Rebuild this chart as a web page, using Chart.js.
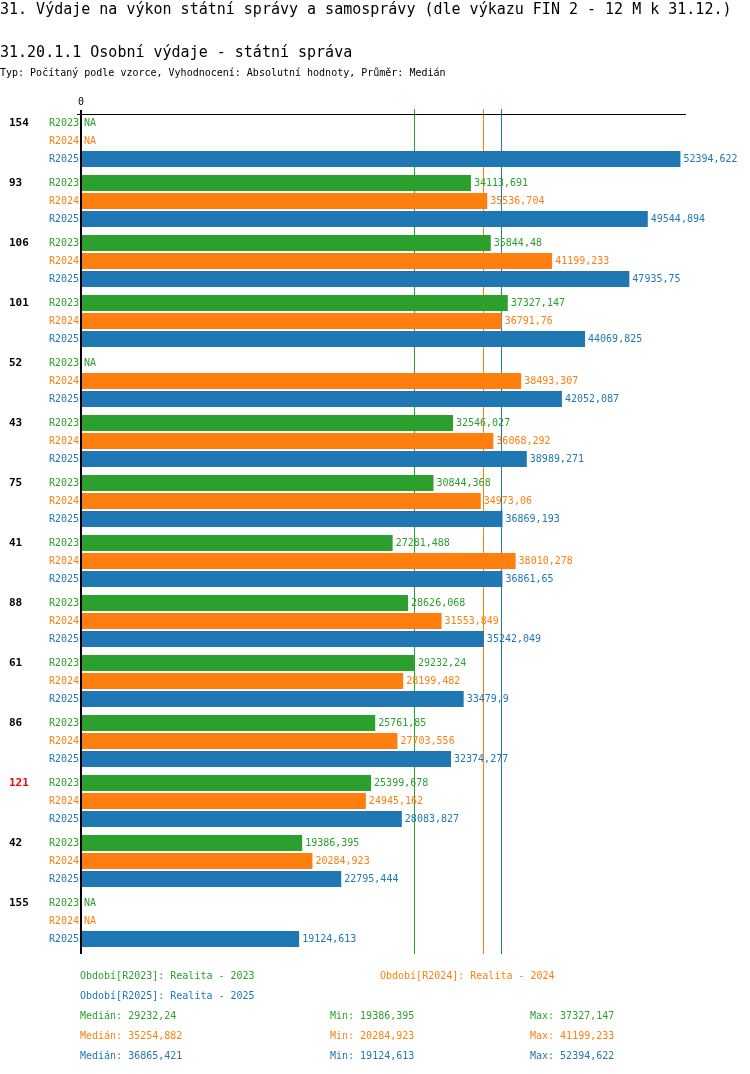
<!DOCTYPE html>
<html>
<head>
<meta charset="utf-8">
<script src="https://cdn.jsdelivr.net/npm/chart.js@4"></script>
<style>
  html, body { margin: 0; padding: 0; background: #fff; overflow: hidden; }
  #wrap { position: relative; width: 750px; height: 1074px; }
  canvas { position: absolute; left: 0; top: 0; }
  .t { position: absolute; font-family: "DejaVu Sans Mono", monospace; white-space: pre; }
</style>
</head>
<body>
<div id="wrap">
  <canvas id="c" width="750" height="1074"></canvas>
  <div class="t" id="title" style="left:0;top:1px;font-size:15px;line-height:16px;color:#000"></div>
  <div class="t" id="subtitle" style="left:0;top:44px;font-size:15px;line-height:16px;color:#000"></div>
  <div class="t" id="typ" style="left:0;top:67px;font-size:10px;line-height:11px;color:#000"></div>
  <div id="legend"></div>
</div>
<script>
const titleText = "31. Výdaje na výkon státní správy a samosprávy (dle výkazu FIN 2 - 12 M k 31.12.)";
const subtitleText = "31.20.1.1 Osobní výdaje - státní správa";
const typText = "Typ: Počítaný podle vzorce, Vyhodnocení: Absolutní hodnoty, Průměr: Medián";

const categories = ["154","93","106","101","52","43","75","41","88","61","86","121","42","155"];
const highlighted = ["121"];
const seriesNames = ["R2023","R2024","R2025"];
const seriesColors = ["#2ca02c","#ff7f0e","#1f77b4"];
const seriesLegend = ["Období[R2023]: Realita - 2023","Období[R2024]: Realita - 2024","Období[R2025]: Realita - 2025"];

const r2023 = [null, 34113.691, 35844.48, 37327.147, null, 32546.027, 30844.368, 27281.488, 28626.068, 29232.24, 25761.85, 25399.678, 19386.395, null];
const r2024 = [null, 35536.704, 41199.233, 36791.76, 38493.307, 36068.292, 34973.06, 38010.278, 31553.849, 28199.482, 27703.556, 24945.162, 20284.923, null];
const r2025 = [52394.622, 49544.894, 47935.75, 44069.825, 42052.087, 38989.271, 36869.193, 36861.65, 35242.049, 33479.9, 32374.277, 28083.827, 22795.444, 19124.613];

const medians = [29232.24, 35254.882, 36865.421];
const mins = [19386.395, 20284.923, 19124.613];
const maxs = [37327.147, 41199.233, 52394.622];

const seriesData = [r2023, r2024, r2025];
const fmt = v => String(v).replace('.', ',');
const FONT = '"DejaVu Sans Mono", monospace';

document.getElementById('title').textContent = titleText;
document.getElementById('subtitle').textContent = subtitleText;
document.getElementById('typ').textContent = typText;

// legend / stats text
const legend = document.getElementById('legend');
function addText(txt, x, yc, color) {
  const d = document.createElement('div');
  d.className = 't';
  d.textContent = txt;
  d.style.left = x + 'px';
  d.style.top = (yc - 6) + 'px';
  d.style.fontSize = '10px';
  d.style.lineHeight = '12px';
  d.style.color = color;
  legend.appendChild(d);
}
addText(seriesLegend[0], 80, 976, seriesColors[0]);
addText(seriesLegend[1], 380, 976, seriesColors[1]);
addText(seriesLegend[2], 80, 996, seriesColors[2]);
for (let s = 0; s < 3; s++) {
  const yc = 1016 + s * 20;
  addText('Medián: ' + fmt(medians[s]), 80, yc, seriesColors[s]);
  addText('Min: ' + fmt(mins[s]), 330, yc, seriesColors[s]);
  addText('Max: ' + fmt(maxs[s]), 530, yc, seriesColors[s]);
}

const decoPlugin = {
  id: 'deco',
  beforeDatasetsDraw(chart) {
    const ctx = chart.ctx, ca = chart.chartArea, xs = chart.scales.x;
    ctx.save();
    // median lines (behind bars)
    for (let s = 0; s < 3; s++) {
      const x = Math.round(xs.getPixelForValue(medians[s])) - 0.5;
      ctx.strokeStyle = seriesColors[s];
      ctx.lineWidth = 1;
      ctx.beginPath();
      ctx.moveTo(x, ca.top - 2);
      ctx.lineTo(x, ca.bottom + 3);
      ctx.stroke();
    }
    ctx.restore();
  },
  afterDatasetsDraw(chart) {
    const ctx = chart.ctx, ca = chart.chartArea, xs = chart.scales.x;
    ctx.save();
    // top horizontal line
    ctx.fillStyle = '#000';
    ctx.fillRect(ca.left - 3, ca.top + 3, ca.right - ca.left + 3, 1);
    // vertical axis line
    ctx.fillRect(ca.left, ca.top - 1, 2, ca.bottom - ca.top + 4);
    // zero tick label
    ctx.font = '10px ' + FONT;
    ctx.textAlign = 'center';
    ctx.textBaseline = 'middle';
    ctx.fillText('0', xs.getPixelForValue(0) + 1, ca.top - 9);

    ctx.textBaseline = 'middle';
    for (let s = 0; s < 3; s++) {
      const meta = chart.getDatasetMeta(s);
      meta.data.forEach((bar, i) => {
        const v = seriesData[s][i];
        const y = bar.y;
        ctx.fillStyle = seriesColors[s];
        ctx.font = '10px ' + FONT;
        // row label
        ctx.textAlign = 'right';
        ctx.fillText(seriesNames[s], ca.left - 1, y);
        // value label
        ctx.textAlign = 'left';
        if (v === null) {
          ctx.fillText('NA', ca.left + 4, y);
        } else {
          ctx.fillText(fmt(v), bar.x + 3, y);
        }
        // group label
        if (s === 0) {
          ctx.fillStyle = highlighted.includes(categories[i]) ? '#ff0000' : '#000';
          ctx.font = 'bold 11px ' + FONT;
          ctx.fillText(categories[i], 9, y);
        }
      });
    }
    ctx.restore();
  }
};

new Chart(document.getElementById('c'), {
  type: 'bar',
  data: {
    labels: categories,
    datasets: seriesNames.map((n, s) => ({
      label: n,
      data: seriesData[s],
      backgroundColor: seriesColors[s],
      borderWidth: 0,
      categoryPercentage: 0.9,
      barPercentage: 16 / 18
    }))
  },
  options: {
    indexAxis: 'y',
    responsive: false,
    animation: false,
    devicePixelRatio: 1,
    layout: { padding: { left: 80, right: 64, top: 111, bottom: 123 } },
    plugins: { legend: { display: false }, tooltip: { enabled: false }, title: { display: false } },
    scales: {
      x: { display: false, min: 0, max: 52880 },
      y: { display: false }
    }
  },
  plugins: [decoPlugin]
});
</script>
</body>
</html>
